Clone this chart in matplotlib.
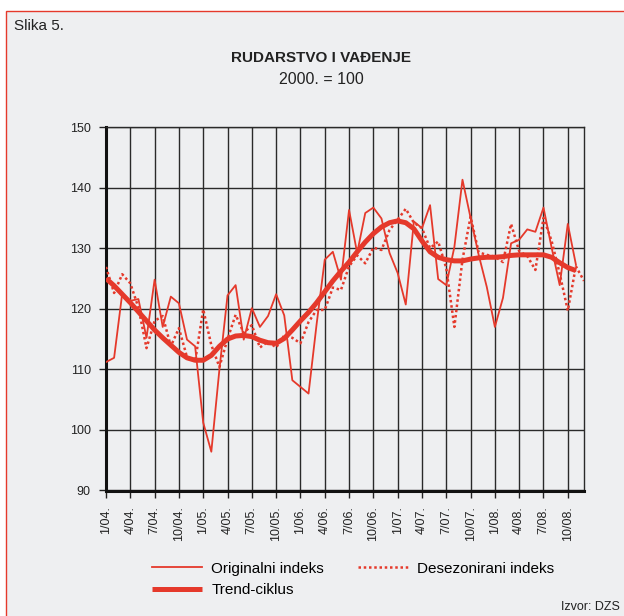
"""Slika 5. - Rudarstvo i vađenje, indeksi 2000. = 100."""
import matplotlib

matplotlib.use("Agg")
import matplotlib.pyplot as plt
from matplotlib.patches import Rectangle

plt.rcParams["font.family"] = ["Liberation Sans", "DejaVu Sans"]

RED = "#e5392b"
BG = "#eeeff1"

# mjeseci 1/04 .. 12/08
months = [f"{m}/{y:02d}." for y in range(4, 9) for m in range(1, 13)]
tick_labels = months[::3]

originalni = [
    111.2, 111.9, 122.5, 121.3, 121.6, 115.2, 124.8, 117.0, 122.0, 120.9, 114.9, 113.8,
    101.2, 96.4, 110.0, 122.2, 123.9, 114.9, 120.1, 117.0, 118.8, 122.4, 118.9, 108.2,
    107.1, 106.0, 117.5, 128.1, 129.4, 124.8, 136.3, 129.2, 135.8, 136.7, 134.9, 129.2,
    125.9, 120.7, 134.4, 133.3, 137.1, 124.9, 123.9, 130.2, 141.3, 135.0, 128.9, 123.6,
    117.0, 121.8, 130.8, 131.4, 133.1, 132.7, 136.7, 130.1, 123.9, 134.0, 127.3,
]
desezonirani = [
    126.9, 122.6, 125.7, 124.2, 120.2, 113.5, 118.0, 118.8, 113.8, 116.8, 112.0, 111.3,
    119.9, 114.0, 110.4, 115.0, 119.0, 116.0, 117.3, 113.6, 114.6, 113.6, 115.6, 115.2,
    114.3, 117.8, 119.8, 119.8, 123.5, 123.1, 127.0, 128.8, 127.5, 130.1, 129.7, 133.0,
    134.7, 136.5, 134.2, 133.3, 130.0, 131.1, 126.7, 117.0, 128.1, 135.2, 129.3, 128.9,
    128.6, 127.7, 134.0, 129.5, 128.7, 126.4, 135.0, 131.2, 125.8, 119.7, 127.0, 124.6,
]
trend = [
    125.0, 123.8, 122.4, 121.0, 119.5, 118.0, 116.5, 115.2, 114.0, 112.8, 111.9, 111.5,
    111.5, 112.3, 113.8, 115.0, 115.5, 115.6, 115.4, 114.8, 114.4, 114.3, 115.1, 116.5,
    118.0, 119.4, 121.0, 122.8, 124.6, 126.2, 127.7, 129.4, 131.0, 132.4, 133.5, 134.2,
    134.5, 134.2, 133.2, 131.2, 129.4, 128.5, 128.1, 127.9, 127.9, 128.2, 128.4, 128.5,
    128.5, 128.6, 128.8, 128.9, 128.9, 128.9, 128.9, 128.5, 127.6, 126.8, 126.3,
]

fig = plt.figure(figsize=(6.24, 6.16), dpi=100)
fig.patch.set_facecolor("white")
fig.patches.append(Rectangle((6 / 624, -0.01), 1.0, 1 - 11 / 616 + 0.01,
                             transform=fig.transFigure, facecolor=BG,
                             edgecolor=RED, lw=1.0, zorder=-10))

ax = fig.add_axes([106 / 624, 1 - 490.5 / 616, (584 - 106) / 624, (490.5 - 127) / 616])
ax.set_facecolor(BG)

x_o = list(range(len(originalni)))
x_d = list(range(len(desezonirani)))
x_t = list(range(len(trend)))
l_o, = ax.plot(x_o, originalni, color=RED, lw=1.3, zorder=3, label="Originalni indeks")
l_d, = ax.plot(x_d, desezonirani, color=RED, lw=1.8, ls=(0, (1, 1.1)), zorder=3,
               label="Desezonirani indeks")
l_t, = ax.plot(x_t, trend, color=RED, lw=3.6, zorder=4, solid_capstyle="butt",
               label="Trend-ciklus")

ax.set_xlim(0, 59)
ax.set_ylim(90, 150)
ax.set_yticks(range(90, 151, 10))
ax.set_xticks(range(0, 60, 3))
ax.set_xticklabels(tick_labels, rotation=90)
ax.tick_params(axis="both", labelsize=9, colors="#222222", length=5, width=1.0,
               direction="out")
ax.tick_params(axis="x", pad=6)
ax.tick_params(axis="y", pad=6)
ax.grid(True, color="#2a2a2a", lw=1.0, zorder=1)

for side in ["top", "right"]:
    ax.spines[side].set_color("#2a2a2a")
    ax.spines[side].set_linewidth(1.0)
for side in ["left", "bottom"]:
    ax.spines[side].set_color("#111111")
    ax.spines[side].set_linewidth(2.2)

fig.text(14 / 624, 1 - 26 / 616, "Slika 5.", fontsize=11, va="center", ha="left",
         color="#222222")
fig.text(321 / 624, 1 - 58 / 616, "RUDARSTVO I VAĐENJE", fontsize=11, fontweight="bold",
         ha="center", va="center", color="#222222")
fig.text(321 / 624, 1 - 79 / 616, "2000. = 100", fontsize=11.5, ha="center", va="center",
         color="#222222")
fig.text(620 / 624, 1 - 607 / 616, "Izvor: DZS", fontsize=9, ha="right", va="center",
         color="#222222")

fig.legend(handles=[l_o, l_t, l_d], ncol=2, loc="center",
           bbox_to_anchor=(353 / 624, 1 - 579.5 / 616), frameon=False, fontsize=11,
           handlelength=3.3, columnspacing=2.2, labelspacing=0.5, handletextpad=0.6)

fig.savefig("out.png", dpi=100, facecolor=fig.get_facecolor())
